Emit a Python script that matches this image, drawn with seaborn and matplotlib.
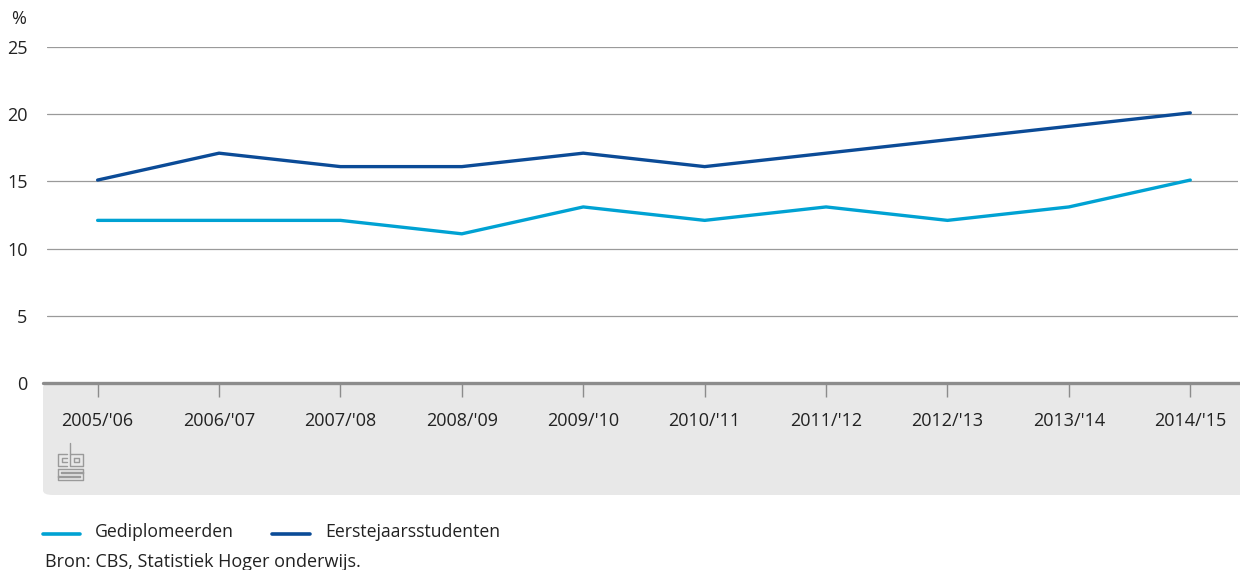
import pandas as pd
import numpy as np
import matplotlib
matplotlib.use("Agg")
import matplotlib.pyplot as plt
from matplotlib.patches import FancyBboxPatch
from matplotlib.lines import Line2D
import seaborn as sns

# data
jaren = ["2005/'06", "2006/'07", "2007/'08", "2008/'09", "2009/'10",
         "2010/'11", "2011/'12", "2012/'13", "2013/'14", "2014/'15"]
gediplomeerden = [12.1, 12.1, 12.1, 11.1, 13.1, 12.1, 13.1, 12.1, 13.1, 15.1]
eerstejaars = [15.1, 17.1, 16.1, 16.1, 17.1, 16.1, 17.1, 18.1, 19.1, 20.1]
yticks = [0, 5, 10, 15, 20, 25]

series_names = ["Gediplomeerden", "Eerstejaarsstudenten"]
colors = {"Gediplomeerden": "#00a2d3", "Eerstejaarsstudenten": "#0b4b97"}

df = pd.DataFrame({
    "jaar": list(range(len(jaren))) * 2,
    "waarde": gediplomeerden + eerstejaars,
    "reeks": [series_names[0]] * len(jaren) + [series_names[1]] * len(jaren),
})

sns.set_style("white")
plt.rcParams['font.family'] = ['Open Sans', 'DejaVu Sans']

W, H = 1240, 570
fig = plt.figure(figsize=(W / 100, H / 100), dpi=100)

def fx(px):
    return px / W

def fy(py):
    return 1 - py / H

# grey panel under the axis (drawn behind the axes)
panel = FancyBboxPatch((fx(43), fy(495)), fx(1260) - fx(43), fy(383) - fy(495),
                       boxstyle="round,pad=0,rounding_size=0.008",
                       transform=fig.transFigure, facecolor="#e8e8e8",
                       edgecolor="none", zorder=-1)
fig.patches.append(panel)

ax = fig.add_axes([fx(47), fy(383), fx(1238) - fx(47), fy(47) - fy(383)])
ax.set_facecolor("none")

sns.lineplot(data=df, x="jaar", y="waarde", hue="reeks", palette=colors,
             linewidth=2.4, legend=False, ax=ax, zorder=3)

ax.set_xlim(-0.417, 9.393)
ax.set_ylim(0, 25)
ax.set_yticks(yticks)
ax.set_yticklabels([str(v) for v in yticks], fontsize=13, color="#222222")
for v in yticks[1:]:
    ax.axhline(v, color="#9a9a9a", linewidth=0.9, zorder=1)

ax.set_xticks(range(len(jaren)))
ax.set_xticklabels(jaren, fontsize=13, color="#222222")
ax.tick_params(axis="x", bottom=True, direction="out", length=10, width=1,
               color="#8c8c8c", pad=11)
ax.tick_params(axis="y", left=False, length=0, pad=14)
ax.set_xlabel("")
ax.set_ylabel("")
for s in ["top", "right", "left", "bottom"]:
    ax.spines[s].set_visible(False)

# thick axis line at 0 starting slightly left of the axes
fig.add_artist(Line2D([fx(43), 1.0], [fy(383), fy(383)], color="#8c8c8c",
                      linewidth=2.4, transform=fig.transFigure, zorder=4))

fig.text(fx(11), fy(19), "%", fontsize=13, color="#222222", va="center", ha="left")

# small cbs logo
logo_col = "#9a9a9a"
def seg(xs, ys):
    fig.add_artist(Line2D([fx(x) for x in xs], [fy(y) for y in ys], color=logo_col,
                          linewidth=1.0, transform=fig.transFigure))
seg([67, 58, 58, 67], [454, 454, 466, 466])
seg([67, 62, 62, 67], [458, 458, 462, 462])
seg([70, 70, 83, 83, 70], [443, 466, 466, 454, 454])
seg([74, 79, 79, 74, 74], [458, 458, 462, 462, 458])
seg([58, 83, 83, 61, 61, 83, 83, 58, 58, 80, 80, 58, 58],
    [469, 469, 473, 473, 472, 472, 480, 480, 476, 476, 477, 477, 469])

# legend
fig.add_artist(Line2D([fx(43), fx(80)], [fy(534), fy(534)], color=colors["Gediplomeerden"],
                      linewidth=2.6, transform=fig.transFigure))
fig.text(fx(95), fy(532), "Gediplomeerden", fontsize=12.7, color="#222222", va="center")
fig.add_artist(Line2D([fx(272), fx(310)], [fy(534), fy(534)], color=colors["Eerstejaarsstudenten"],
                      linewidth=2.6, transform=fig.transFigure))
fig.text(fx(325), fy(532), "Eerstejaarsstudenten", fontsize=12.7, color="#222222", va="center")

fig.text(fx(45), fy(562), "Bron: CBS, Statistiek Hoger onderwijs.", fontsize=13,
         color="#222222", va="center")

fig.savefig("out.png", dpi=100)
